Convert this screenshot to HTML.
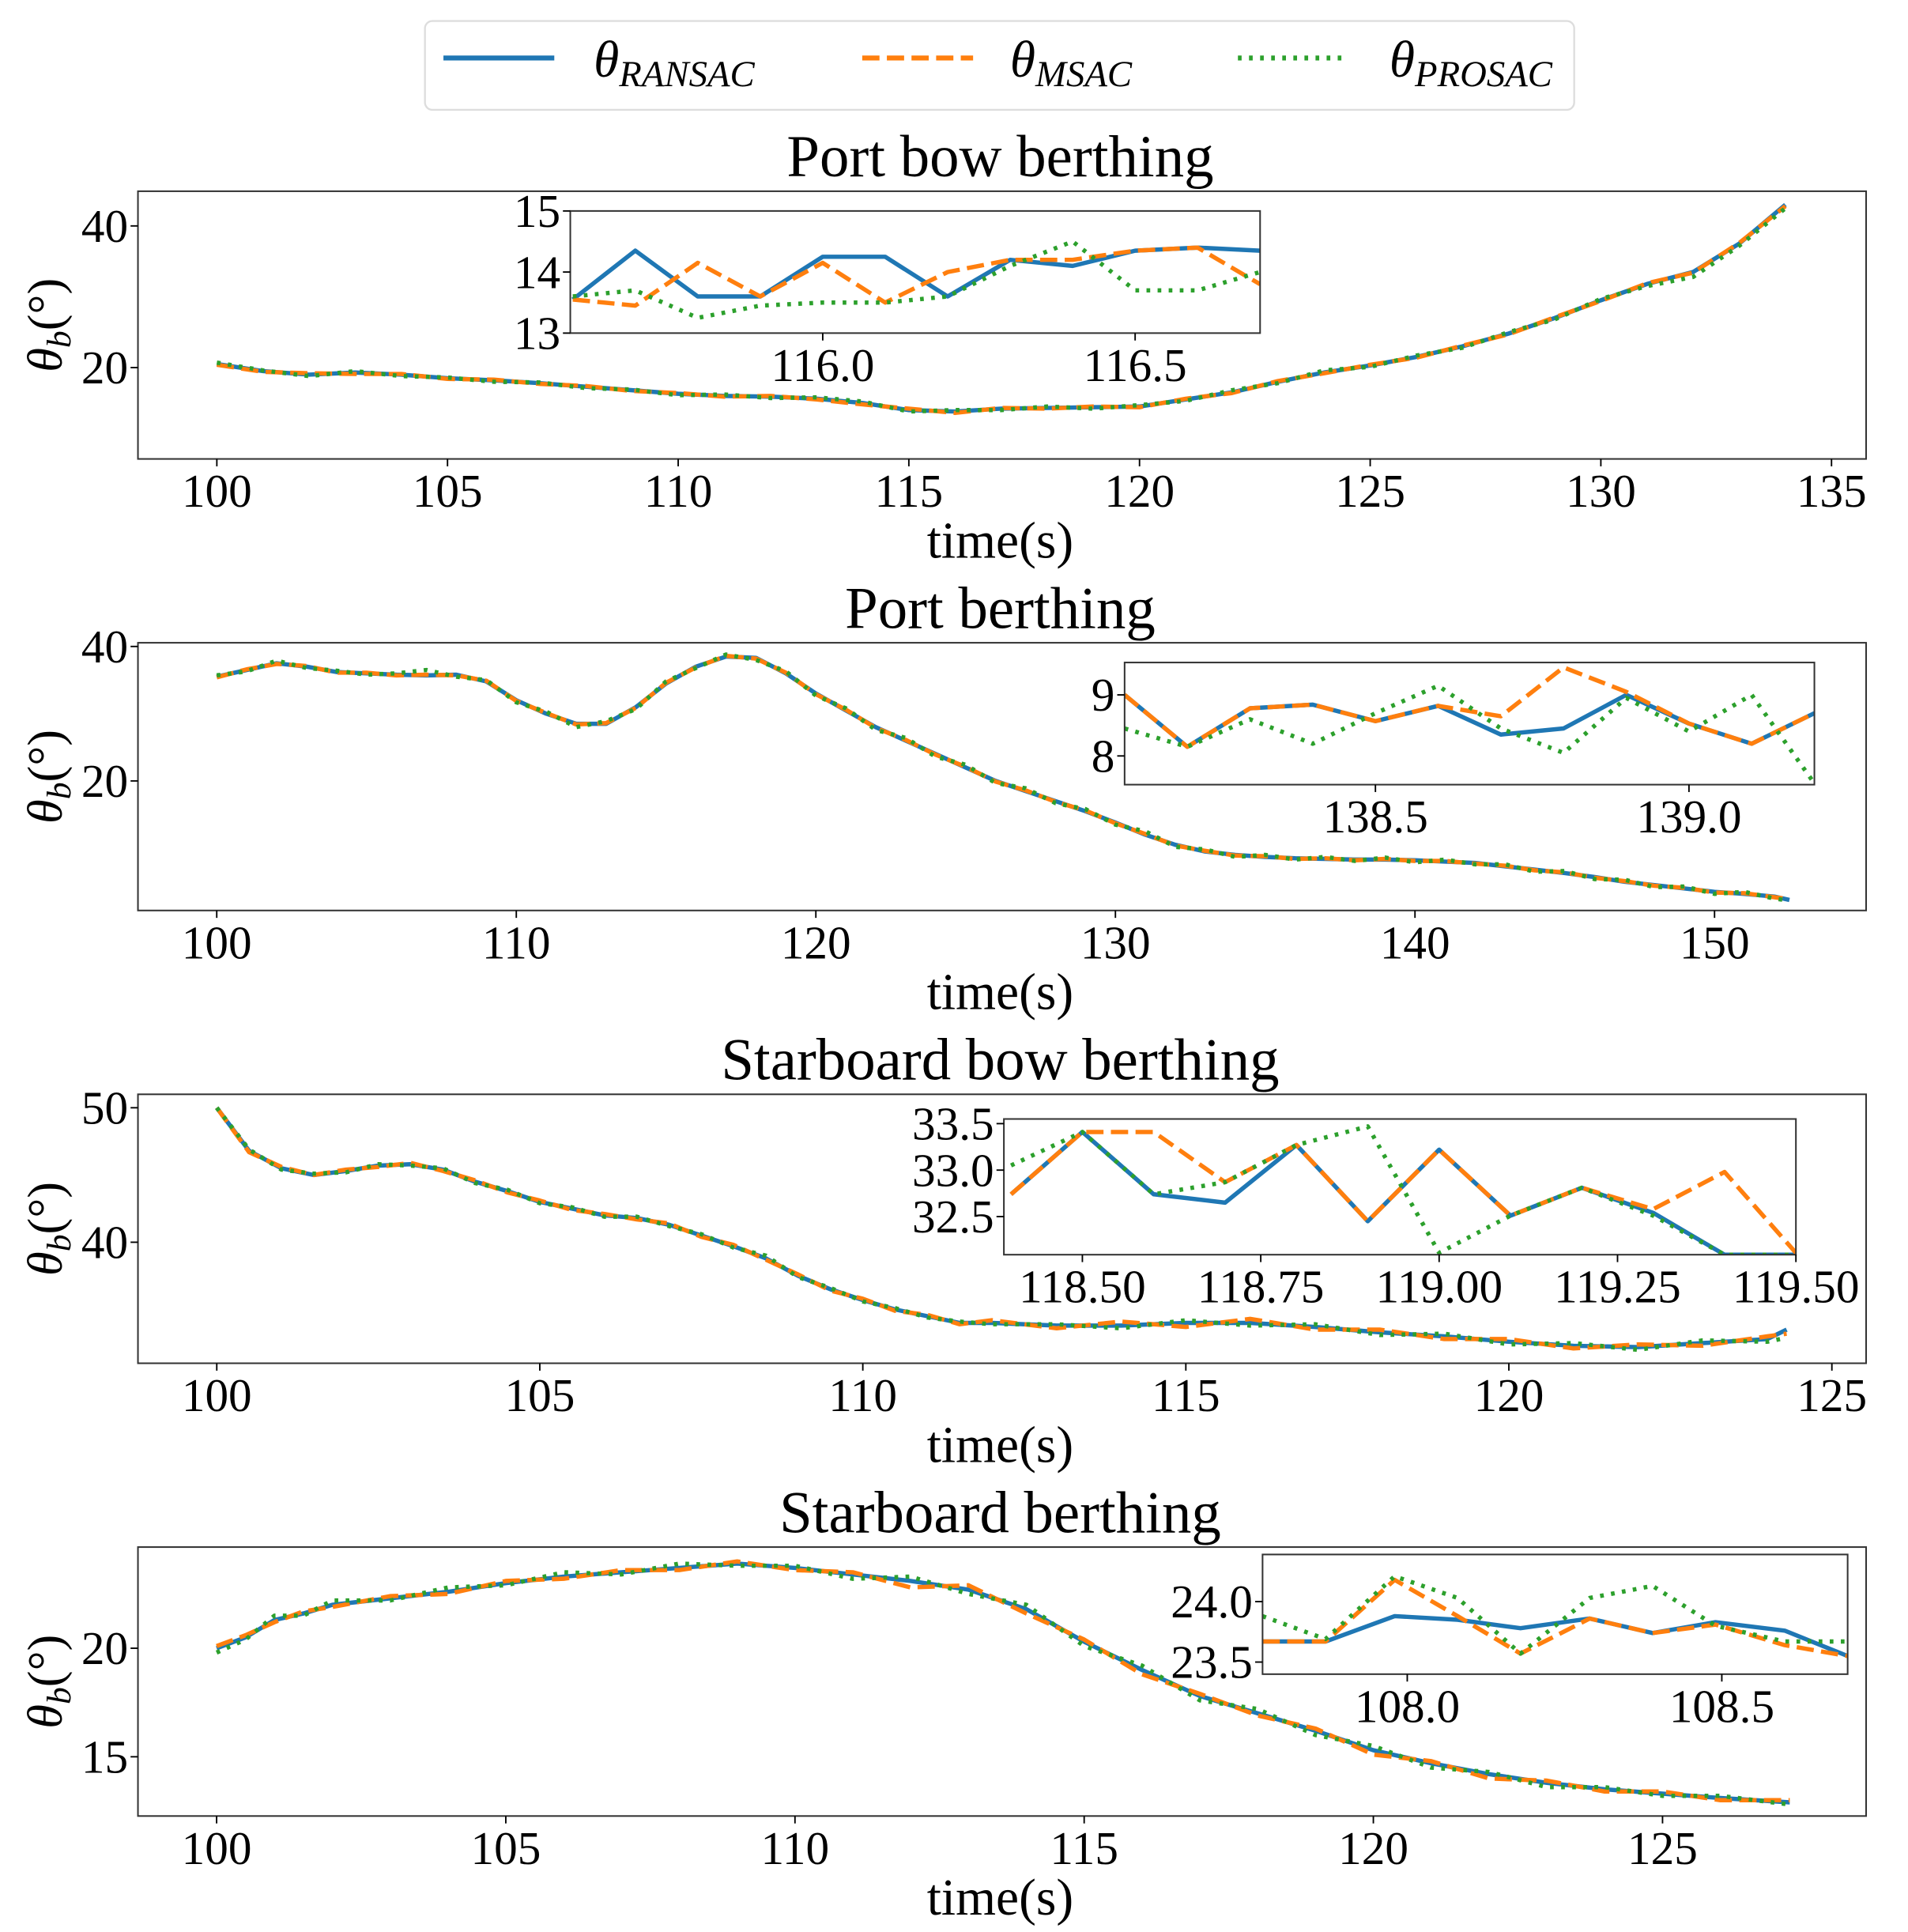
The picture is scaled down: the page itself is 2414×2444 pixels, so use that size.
<!DOCTYPE html>
<html><head><meta charset="utf-8">
<style>
html,body{margin:0;padding:0;background:#fff;}
svg{display:block;}
text{font-family:"Liberation Serif","DejaVu Serif",serif;fill:#000;}
</style></head>
<body>
<svg id="chart" width="2414" height="2444" viewBox="0 0 1549 1566" preserveAspectRatio="none" xmlns="http://www.w3.org/2000/svg">
<g>
<rect x="345" y="17" width="933" height="72" rx="6" fill="#fff" stroke="#ddd" stroke-width="1.5"/>
<line x1="360" y1="47" x2="450" y2="47" stroke="#1f77b4" stroke-width="4"/>
<text x="482" y="62" font-size="42" font-style="italic">θ<tspan font-size="30" dy="8">RANSAC</tspan></text>
<line x1="700" y1="47" x2="790" y2="47" stroke="#ff7f0e" stroke-width="4" stroke-dasharray="14,6"/>
<text x="820" y="62" font-size="42" font-style="italic">θ<tspan font-size="30" dy="8">MSAC</tspan></text>
<line x1="1005" y1="47" x2="1095" y2="47" stroke="#2ca02c" stroke-width="4" stroke-dasharray="3,6"/>
<text x="1128" y="62" font-size="42" font-style="italic">θ<tspan font-size="30" dy="8">PROSAC</tspan></text>
</g>
</svg>
<script>
// ---- Panel 1: Port bow berthing ----
const p1Time = [100,101,102,103,104,105,106,107,108,109,110,111,112,113,114,115,116,117,118,119,120,121,122,123,124,125,126,127,128,129,130,131,132,133,134];
const p1Ransac = [20.5,19.5,19.0,19.3,19.0,18.5,18.2,17.8,17.3,16.8,16.3,16.0,15.9,15.6,15.0,14.0,13.8,14.2,14.3,14.4,14.5,15.5,16.5,18.0,19.3,20.3,21.5,23.0,24.8,27.0,29.5,31.8,33.5,37.5,43.0];
const p1Msac = [20.4,19.4,19.2,19.1,19.1,18.4,18.3,17.7,17.4,16.7,16.4,15.9,16.0,15.5,14.8,14.2,13.6,14.3,14.2,14.5,14.4,15.6,16.4,18.1,19.2,20.4,21.4,23.1,24.7,27.1,29.4,31.9,33.4,37.6,42.8];
const p1Prosac = [20.7,19.6,18.8,19.5,18.8,18.6,18.0,17.9,17.1,16.9,16.1,16.2,15.7,15.8,15.2,13.8,14.0,14.0,14.5,14.2,14.7,15.3,16.8,17.8,19.6,20.1,21.7,22.8,25.0,26.8,29.7,31.5,32.8,37.2,42.5];
const p1InTime = [115.6,115.7,115.8,115.9,116.0,116.1,116.2,116.3,116.4,116.5,116.6,116.7];
const p1InRansac = [13.55,14.35,13.6,13.6,14.25,14.25,13.6,14.2,14.1,14.35,14.4,14.35];
const p1InMsac = [13.55,13.45,14.15,13.6,14.15,13.5,14.0,14.2,14.2,14.35,14.4,13.8];
const p1InProsac = [13.6,13.7,13.25,13.45,13.5,13.5,13.6,14.1,14.5,13.7,13.7,14.0];
const p1XTicks = [100,105,110,115,120,125,130,135];
const p1YTicks = [20,40];
const p1InXTicks = ["116.0","116.5"];
const p1InYTicks = ["13","14","15"];

// ---- Panel 2: Port berthing ----
const p2Time = [100,101,102,103,104,105,106,107,108,109,110,111,112,113,114,115,116,117,118,119,120,121,122,123,124,125,126,127,128,129,130,131,132,133,134,135,136,137,138,139,140,141,142,143,144,145,146,147,148,149,150,151,152,152.5];
const p2Ransac = [35.5,36.5,37.5,37.0,36.2,36.0,35.8,35.7,35.8,34.8,32.0,30.0,28.5,28.5,31.0,34.5,37.0,38.5,38.3,36.0,33.0,30.5,28.0,26.0,24.0,22.0,20.0,18.5,17.0,15.5,13.8,12.0,10.5,9.5,9.0,8.7,8.5,8.4,8.3,8.3,8.2,8.0,7.8,7.3,6.8,6.3,5.7,5.0,4.5,4.0,3.5,3.2,2.8,2.3];
const p2Msac = [35.4,36.6,37.4,37.1,36.1,36.1,35.7,35.8,35.7,34.9,31.9,30.1,28.4,28.6,30.9,34.6,36.9,38.6,38.2,36.1,32.9,30.6,27.9,26.1,23.9,22.1,19.9,18.6,16.9,15.6,13.7,12.1,10.4,9.6,8.9,8.8,8.4,8.5,8.2,8.4,8.1,8.1,7.7,7.4,6.7,6.4,5.6,5.1,4.4,4.1,3.4,3.3,2.7,2.4];
const p2Prosac = [35.7,36.3,37.9,36.8,36.4,35.8,36.0,36.5,35.5,35.0,31.7,30.3,28.0,28.9,30.7,34.8,36.8,38.8,38.0,36.3,32.7,30.8,27.6,26.4,23.6,22.4,19.7,18.9,16.7,15.8,13.5,12.5,10.2,9.8,8.7,9.0,8.3,8.7,8.1,8.6,7.9,8.3,7.6,7.6,6.5,6.6,5.4,5.3,4.2,4.3,3.2,3.5,2.5,2.2];
const p2InTime = [138.1,138.2,138.3,138.4,138.5,138.6,138.7,138.8,138.9,139.0,139.1,139.2];
const p2InRansac = [9.0,8.15,8.78,8.84,8.57,8.82,8.35,8.45,9.0,8.53,8.2,8.7];
const p2InMsac = [9.0,8.15,8.78,8.84,8.57,8.82,8.65,9.45,9.05,8.53,8.2,8.7];
const p2InProsac = [8.45,8.15,8.6,8.2,8.7,9.15,8.45,8.05,8.95,8.4,9.0,7.55];
const p2XTicks = [100,110,120,130,140,150];
const p2YTicks = [20,40];
const p2InXTicks = ["138.5","139.0"];
const p2InYTicks = ["8","9"];

// ---- Panel 3: Starboard bow berthing ----
const p3Time = [100,100.5,101,101.5,102,102.5,103,103.5,104,104.5,105,105.5,106,106.5,107,107.5,108,108.5,109,109.5,110,110.5,111,111.5,112,113,114,115,116,117,118,119,120,121,122,123,124,124.3];
const p3Ransac = [50,46.8,45.5,45.0,45.3,45.7,45.8,45.4,44.5,43.8,43.0,42.5,42.0,41.8,41.3,40.5,39.7,38.8,37.5,36.5,35.7,35.0,34.5,34.0,34.0,33.8,33.8,34.0,34.0,33.7,33.3,33.0,32.6,32.3,32.2,32.5,32.8,33.5];
const p3Msac = [50,46.7,45.6,45.0,45.4,45.6,45.9,45.3,44.6,43.7,43.1,42.4,42.1,41.7,41.4,40.4,39.8,38.7,37.6,36.4,35.8,34.9,34.6,33.9,34.2,33.6,34.1,33.7,34.3,33.5,33.5,32.8,32.8,32.1,32.4,32.3,33.0,33.2];
const p3Prosac = [50,46.9,45.4,45.1,45.2,45.8,45.7,45.5,44.4,43.9,42.9,42.6,41.9,41.9,41.2,40.6,39.6,39.0,37.4,36.6,35.6,35.1,34.4,34.1,33.9,33.9,33.6,34.2,33.8,33.9,33.1,33.2,32.4,32.5,32.0,32.7,32.6,32.9];
const p3InTime = [118.4,118.5,118.6,118.7,118.8,118.9,119.0,119.1,119.2,119.3,119.4,119.5];
const p3InRansac = [32.74,33.41,32.74,32.65,33.27,32.45,33.22,32.51,32.81,32.54,32.09,32.09];
const p3InMsac = [32.74,33.41,33.41,32.87,33.27,32.45,33.22,32.51,32.81,32.58,32.98,32.11];
const p3InProsac = [33.05,33.41,32.74,32.87,33.27,33.47,32.11,32.51,32.81,32.51,32.09,32.09];
const p3XTicks = [100,105,110,115,120,125];
const p3YTicks = [40,50];
const p3InXTicks = ["118.50","118.75","119.00","119.25","119.50"];
const p3InYTicks = ["32.5","33.0","33.5"];

// ---- Panel 4: Starboard berthing ----
const p4Time = [100,100.5,101,101.5,102,103,104,105,106,107,108,109,110,111,112,113,114,115,116,117,118,119,120,121,122,123,124,125,126,127.2];
const p4Ransac = [20.0,20.5,21.3,21.6,22.0,22.3,22.6,23.0,23.3,23.5,23.7,23.9,23.7,23.4,23.1,22.7,21.8,20.3,19.0,17.8,17.0,16.2,15.3,14.7,14.2,13.8,13.5,13.3,13.1,12.9];
const p4Msac = [20.1,20.6,21.2,21.7,21.9,22.4,22.5,23.1,23.2,23.6,23.6,24.0,23.6,23.5,22.8,22.9,21.6,20.4,18.8,17.9,16.9,16.3,15.1,14.8,14.0,13.9,13.4,13.4,13.0,13.0];
const p4Prosac = [19.8,20.4,21.5,21.5,22.2,22.2,22.8,22.9,23.5,23.4,23.9,23.8,23.8,23.2,23.3,22.5,22.0,20.1,19.2,17.6,17.2,16.0,15.5,14.5,14.3,13.6,13.6,13.2,13.2,12.8];
const p4InTime = [107.77,107.87,107.98,108.08,108.18,108.29,108.39,108.49,108.6,108.7];
const p4InRansac = [23.67,23.67,23.88,23.85,23.78,23.86,23.74,23.83,23.76,23.55];
const p4InMsac = [23.67,23.67,24.18,23.88,23.57,23.86,23.74,23.81,23.64,23.55];
const p4InProsac = [23.88,23.69,24.21,24.03,23.57,24.03,24.13,23.8,23.67,23.67];
const p4XTicks = [100,105,110,115,120,125];
const p4YTicks = [15,20];
const p4InXTicks = ["108.0","108.5"];
const p4InYTicks = ["23.5","24.0"];

const NS = "http://www.w3.org/2000/svg";
const svg = document.getElementById('chart');
const COLORS = ["#1f77b4","#ff7f0e","#2ca02c"];
const DASH = [null,"14,6","3,6"];
const SNAMES = ["ransac","msac","prosac"];
let clipId = 0;

function mk(tag, attrs, parent){
  const e = document.createElementNS(NS, tag);
  for (const k in attrs) e.setAttribute(k, attrs[k]);
  parent.appendChild(e);
  return e;
}
function scale(d0,d1,r0,r1){ return v => r0 + (v-d0)/(d1-d0)*(r1-r0); }

function drawAxes(g, box, xdom, ydom, times, series, xticks, yticks, fs, prefix){
  const sx = scale(xdom[0],xdom[1],box.x,box.x+box.w);
  const sy = scale(ydom[0],ydom[1],box.y+box.h,box.y);
  const bg = mk('rect',{x:box.x,y:box.y,width:box.w,height:box.h,fill:'#fff'},g);
  
  
  const cid = 'clip'+(clipId++);
  const cp = mk('clipPath',{id:cid},g);
  mk('rect',{x:box.x,y:box.y,width:box.w,height:box.h},cp);
  const lg = mk('g',{'clip-path':'url(#'+cid+')'},g);
  series.forEach((vals,si)=>{
    const pts = vals.map((v,i)=>sx(times[i]).toFixed(2)+','+sy(v).toFixed(2)).join(' ');
    const pl = mk('polyline',{points:pts,fill:'none',stroke:COLORS[si],'stroke-width':3.5,'stroke-linejoin':'round'},lg);
    if (DASH[si]) pl.setAttribute('stroke-dasharray', DASH[si]);
    
    
  });
  const fr = mk('rect',{x:box.x,y:box.y,width:box.w,height:box.h,fill:'none',stroke:'#333','stroke-width':1.3},g);
  
  
  xticks.forEach(t=>{
    const x = sx(parseFloat(t));
    mk('line',{x1:x,x2:x,y1:box.y+box.h,y2:box.y+box.h+6,stroke:'#000','stroke-width':1.2},g);
    const tx = mk('text',{x:x,y:box.y+box.h+fs*1.02,'font-size':fs,'text-anchor':'middle'},g);
    tx.textContent = t;
    
    
  });
  yticks.forEach(t=>{
    const y = sy(parseFloat(t));
    mk('line',{x1:box.x-6,x2:box.x,y1:y,y2:y,stroke:'#000','stroke-width':1.2},g);
    const tx = mk('text',{x:box.x-8,y:y+fs*0.34,'font-size':fs,'text-anchor':'end'},g);
    tx.textContent = t;
    
    
  });
}

function panel(p){
  const g = mk('g',{},svg);
  
  
  const tt = mk('text',{x:812,y:p.box.y-12,'font-size':48,'text-anchor':'middle'},g);
  tt.textContent = p.title;
  
  
  drawAxes(g,p.box,p.xdom,p.ydom,p.time,p.series,p.xticks,p.yticks,38,p.name);
  const xl = mk('text',{x:812,y:p.box.y+p.box.h+80,'font-size':42,'text-anchor':'middle'},g);
  xl.textContent = 'time(s)';
  
  
  const cy = p.box.y+p.box.h/2;
  const yl = mk('text',{x:0,y:0,'font-size':40,'text-anchor':'middle',transform:'translate(50,'+cy+') rotate(-90)'},g);
  yl.innerHTML = '<tspan font-style="italic">θ</tspan><tspan font-style="italic" font-size="28" dy="7">b</tspan><tspan dy="-7">(°)</tspan>';
  
  
  const ig = mk('g',{},g);
  
  
  drawAxes(ig,p.ibox,p.ixdom,p.iydom,p.itime,p.iseries,p.ixticks,p.iyticks,38,p.name+'-inset');
}

panel({name:'port-bow-panel',title:'Port bow berthing',box:{x:112,y:155,w:1403,h:217},
  xdom:[98.29,135.75],ydom:[7.1,44.9],time:p1Time,series:[p1Ransac,p1Msac,p1Prosac],xticks:p1XTicks,yticks:p1YTicks,
  ibox:{x:463,y:171,w:560,h:99},ixdom:[115.596,116.7],iydom:[13,15],itime:p1InTime,iseries:[p1InRansac,p1InMsac,p1InProsac],ixticks:p1InXTicks,iyticks:p1InYTicks});
panel({name:'port-panel',title:'Port berthing',box:{x:112,y:521,w:1403,h:217},
  xdom:[97.37,155.06],ydom:[0.73,40.55],time:p2Time,series:[p2Ransac,p2Msac,p2Prosac],xticks:p2XTicks,yticks:p2YTicks,
  ibox:{x:913,y:537,w:560,h:99},ixdom:[138.1,139.2],iydom:[7.53,9.53],itime:p2InTime,iseries:[p2InRansac,p2InMsac,p2InProsac],ixticks:p2InXTicks,iyticks:p2InYTicks});
panel({name:'starboard-bow-panel',title:'Starboard bow berthing',box:{x:112,y:887,w:1403,h:218},
  xdom:[98.78,125.53],ydom:[31.0,51.0],time:p3Time,series:[p3Ransac,p3Msac,p3Prosac],xticks:p3XTicks,yticks:p3YTicks,
  ibox:{x:815,y:907,w:643,h:110},ixdom:[118.39,119.5],iydom:[32.09,33.55],itime:p3InTime,iseries:[p3InRansac,p3InMsac,p3InProsac],ixticks:p3InXTicks,iyticks:p3InYTicks});
panel({name:'starboard-panel',title:'Starboard berthing',box:{x:112,y:1254,w:1403,h:218},
  xdom:[98.64,128.52],ydom:[12.27,24.66],time:p4Time,series:[p4Ransac,p4Msac,p4Prosac],xticks:p4XTicks,yticks:p4YTicks,
  ibox:{x:1025,y:1260,w:475,h:97},ixdom:[107.77,108.7],iydom:[23.40,24.39],itime:p4InTime,iseries:[p4InRansac,p4InMsac,p4InProsac],ixticks:p4InXTicks,iyticks:p4InYTicks});
</script>
</body></html>
